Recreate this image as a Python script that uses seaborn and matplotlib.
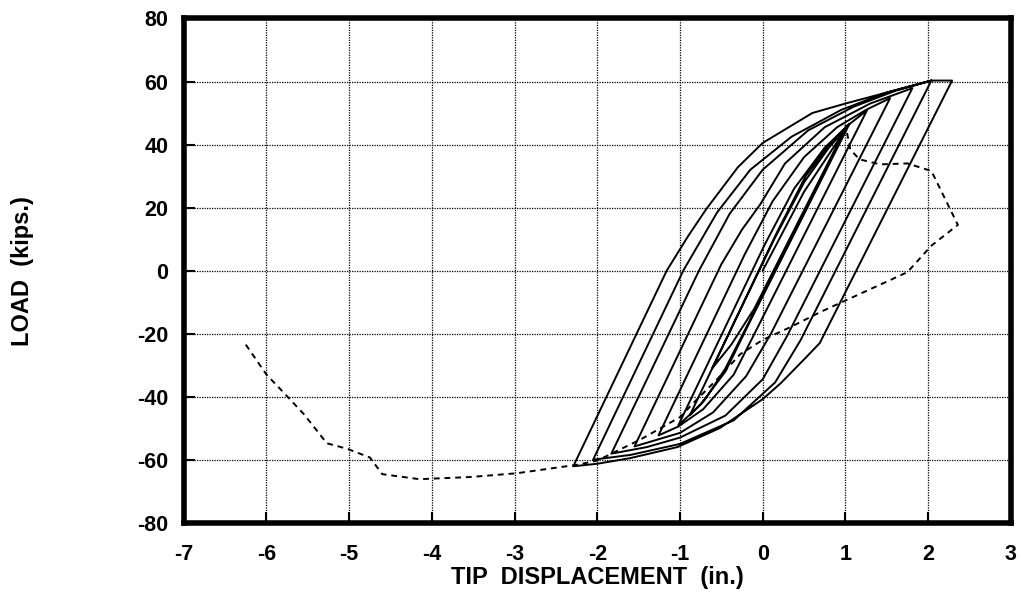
import numpy as np
import pandas as pd
import matplotlib
matplotlib.use("Agg")
import matplotlib.pyplot as plt
import seaborn as sns

# cyclic test, solid curve (tip displacement in., load kips), in load order
cyc_disp = [
    0.0, 0.5, 0.98,                                         # load 1
    -0.10, -0.38, -0.61,                                    # unload 1
    0.14, 0.5, 0.8, 1.02,                                   # load 2
    -0.14, -0.45, -0.70, -0.88,                             # unload 2
    0.17, 0.52, 0.82, 1.05,                                 # load 3
    -0.15, -0.45, -0.75, -1.02,                             # unload 3
    0.02, 0.38, 0.75, 1.05, 1.26,                           # load 4
    -0.06, -0.35, -0.72, -1.02, -1.26,                      # unload 4
    -0.22, 0.12, 0.5, 0.9, 1.25, 1.54,                      # load 5
    0.10, -0.2, -0.6, -1.0, -1.55,                          # unload 5
    -0.50, -0.25, -0.03, 0.27, 0.75, 1.3, 1.81,             # load 6
    0.29, 0.0, -0.45, -1.0, -1.4, -1.83,                    # unload 6
    -0.77, -0.4, 0.0, 0.55, 1.1, 1.6, 2.04,                 # load 7
    0.46, 0.15, -0.35, -1.0, -1.6, -2.05,                   # unload 7
    -0.96, -0.55, -0.15, 0.35, 0.95, 1.5, 2.04, 2.29,       # load 8
    0.69, 0.5, 0.22, 0.0, -0.52, -1.03, -1.6, -2.0, -2.29,  # unload 8
    -1.16, -0.9, -0.68, -0.30, 0.0, 0.6, 1.0, 1.5, 2.04,    # load 9
]
cyc_load = [
    0.0, 25.0, 44.0,
    -12.0, -23.5, -31.0,
    10.0, 28.0, 39.0, 45.5,
    -15.0, -31.0, -41.0, -45.9,
    12.0, 30.0, 40.5, 46.6,
    -16.0, -32.0, -42.5, -49.1,
    8.0, 26.0, 39.0, 46.5, 50.8,
    -18.0, -33.0, -44.0, -49.5, -52.3,
    5.0, 22.0, 36.0, 45.5, 51.0, 54.7,
    -20.0, -33.5, -45.0, -51.5, -55.8,
    2.0, 13.0, 21.0, 34.0, 45.5, 53.0, 57.9,
    -21.0, -34.5, -46.0, -53.0, -56.0, -58.1,
    0.0, 18.0, 32.0, 44.5, 52.0, 57.0, 60.3,
    -22.0, -35.5, -47.5, -55.0, -58.5, -60.0,
    0.0, 18.5, 32.0, 42.5, 51.0, 56.5, 60.3, 60.3,
    -23.0, -28.2, -35.7, -40.8, -50.0, -56.0, -59.5, -61.3, -62.1,
    0.0, 11.0, 19.6, 32.8, 40.5, 50.0, 53.0, 56.5, 60.3,
]

# dashed curve
dash_disp = [-6.25, -6.0, -5.8, -5.55, -5.27, -5.03, -4.75, -4.6, -4.15, -3.53,
             -2.97, -2.24, -2.0, -1.47, -1.0, -0.8, -0.57, -0.27, 0.0, 0.33,
             0.71, 1.75, 2.04, 2.36, 2.04, 1.75, 1.42, 1.17, 1.06, 1.0]
dash_load = [-23.5, -33.0, -38.5, -45.5, -54.8, -56.5, -59.3, -64.6, -66.2, -65.5,
             -64.3, -61.6, -60.3, -53.5, -46.5, -41.0, -35.0, -26.5, -22.0, -18.0,
             -13.0, -0.5, 7.9, 14.5, 31.6, 34.0, 33.7, 35.3, 38.4, 46.3]

x_ticks = [-7, -6, -5, -4, -3, -2, -1, 0, 1, 2, 3]
y_ticks = [-80, -60, -40, -20, 0, 20, 40, 60, 80]

sns.set_style("white")
plt.rcParams['font.family'] = ['Liberation Sans', 'DejaVu Sans']
plt.rcParams['axes.unicode_minus'] = False
plt.rcParams['text.color'] = 'black'
plt.rcParams['axes.labelcolor'] = 'black'
plt.rcParams['xtick.color'] = 'black'
plt.rcParams['ytick.color'] = 'black'

cyc = pd.DataFrame({'disp': cyc_disp, 'load': cyc_load})
dash = pd.DataFrame({'disp': dash_disp, 'load': dash_load})

fig = plt.figure(figsize=(10.21, 5.96), dpi=100)
ax = fig.add_axes([0.180, 0.123, 0.810, 0.846])

sns.lineplot(data=cyc, x='disp', y='load', sort=False, estimator=None,
             color='black', linewidth=1.4, ax=ax)
sns.lineplot(data=dash, x='disp', y='load', sort=False, estimator=None,
             color='black', linewidth=1.4, linestyle=(0, (3, 2.5)), ax=ax)

ax.set_xlim(-7, 3)
ax.set_ylim(-80, 80)
ax.set_xticks(x_ticks)
ax.set_yticks(y_ticks)
ax.grid(True, color='black', linestyle=(0, (1, 1)), linewidth=0.9)
ax.set_axisbelow(True)

for s in ax.spines.values():
    s.set_linewidth(4)
    s.set_color('black')

ax.tick_params(axis='both', direction='in', length=8, width=1.5, colors='black',
               labelsize=15.5, bottom=True, left=True)
ax.tick_params(axis='x', pad=15)
ax.tick_params(axis='y', pad=11)
for lbl in ax.get_xticklabels() + ax.get_yticklabels():
    lbl.set_fontweight('bold')

ax.set_xlabel("TIP  DISPLACEMENT  (in.)", fontsize=17, fontweight='bold',
              color='black', labelpad=1)
ax.set_ylabel("LOAD  (kips.)", fontsize=17, fontweight='bold',
              color='black', labelpad=74)

fig.savefig("out.png", dpi=100)
